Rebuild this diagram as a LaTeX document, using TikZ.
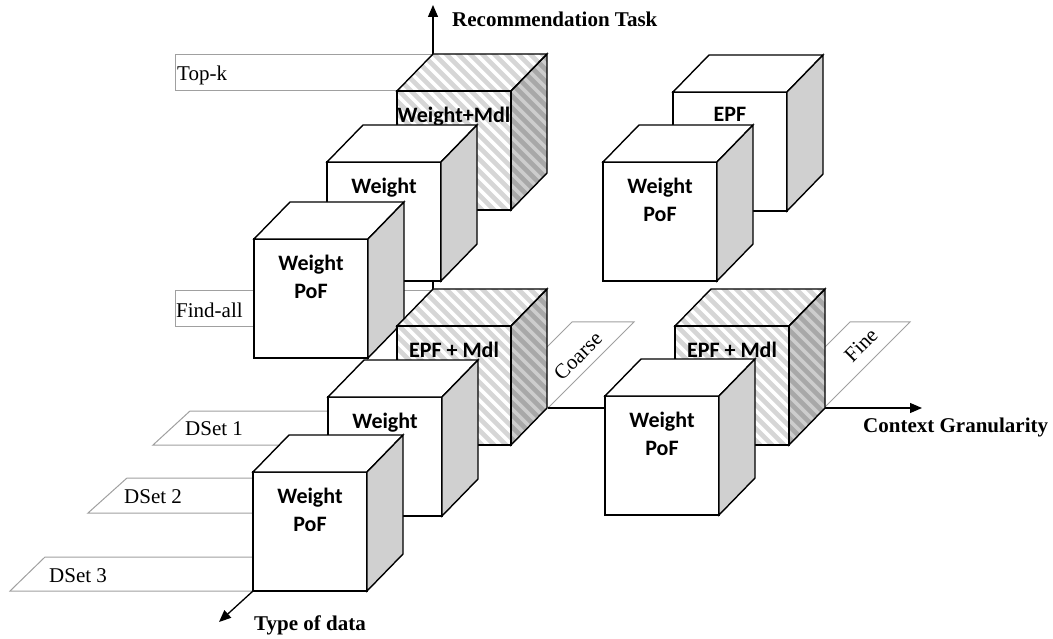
\documentclass[tikz,border=0pt]{standalone}
\usepackage{fontspec}
\setmainfont{Liberation Serif}
\newfontfamily\cubefont{Carlito}
\usetikzlibrary{arrows.meta}
\definecolor{sidegray}{HTML}{D0D0D0}
\definecolor{stripegray}{HTML}{D6D6D6}
\definecolor{hsidebase}{HTML}{CDCDCD}
\definecolor{hsidestripe}{HTML}{A8A8A8}
\definecolor{plategray}{HTML}{A0A0A0}
\tikzset{
  cubeedge/.style={draw=black, line width=1.4pt, line join=miter},
  platebox/.style={draw=plategray, line width=1pt, fill=white},
  platetext/.style={font=\fontsize{21}{24}\selectfont, anchor=base west, inner sep=0pt},
  axislabel/.style={font=\fontsize{21}{24}\selectfont\bfseries, anchor=base west, inner sep=0pt},
  axisline/.style={line width=1.3pt, -{Triangle[length=12pt,width=10pt]}},
  cubelabel/.style={font=\cubefont\bfseries\fontsize{22}{28}\selectfont, align=center, anchor=north, inner sep=0pt},
}
\newcommand{\plaincube}[4]{%
  \begin{scope}[shift={(#2,#3)}]
    \path[cubeedge, fill=white] (0,0) -- (114,0) -- (114,119) -- (0,119) -- cycle;
    \path[cubeedge, fill=white] (0,0) -- (36,-37) -- (150,-37) -- (114,0) -- cycle;
    \path[cubeedge, fill=sidegray] (114,0) -- (150,-37) -- (150,82) -- (114,119) -- cycle;
    \node[cubelabel] (#1) at (57,15.5) {#4};
  \end{scope}}
\newcommand{\hatchcube}[4]{%
  \begin{scope}[shift={(#2,#3)}]
    \begin{scope}
      \clip (0,119) -- (0,0) -- (36,-37) -- (150,-37) -- (114,0) -- (114,119) -- cycle;
      \fill[white] (-5,-45) rectangle (155,125);
      \foreach \k in {-16,...,13} \draw[line width=4.6pt, stripegray] (\k*12,-50) -- ++(250,250);
    \end{scope}
    \begin{scope}
      \clip (114,0) -- (150,-37) -- (150,82) -- (114,119) -- cycle;
      \fill[hsidebase] (100,-45) rectangle (155,125);
      \foreach \k in {-16,...,13} \draw[line width=4.6pt, hsidestripe] (\k*12,-50) -- ++(250,250);
    \end{scope}
    \path[cubeedge] (0,0) -- (114,0) -- (114,119) -- (0,119) -- cycle;
    \path[cubeedge] (0,0) -- (36,-37) -- (150,-37) -- (114,0) -- cycle;
    \path[cubeedge] (114,0) -- (150,-37) -- (150,82) -- (114,119) -- cycle;
    \node[cubelabel] (#1) at (57,15.5) {#4};
  \end{scope}}
\begin{document}
\begin{tikzpicture}[x=1pt,y=-1pt]
\useasboundingbox (0,0) rectangle (1053,639);
% plates
\path[platebox] (175,55) rectangle (433,91);
\node[platetext] (topk) at (177,81) {Top-k};
\path[platebox] (175,291) rectangle (433,327);
\node[platetext] (findall) at (176,317) {Find-all};
\path[platebox] (487,407) -- (549,407) -- (634,322) -- (572,322) -- cycle;
\node[platetext, anchor=center, rotate=45] (coarse) at (578,356) {Coarse};
\path[platebox] (765,407) -- (825,407) -- (910,322) -- (850,322) -- cycle;
\node[platetext, anchor=center, rotate=45] (fine) at (861,345) {Fine};
\path[platebox] (153,445) -- (190,411) -- (340,411) -- (340,445) -- cycle;
\node[platetext] (ds1) at (185,435) {DSet 1};
\path[platebox] (88,513) -- (127,478) -- (262,478) -- (262,513) -- cycle;
\node[platetext] (ds2) at (124,503) {DSet 2};
\path[platebox] (10,591) -- (45,557) -- (258,557) -- (258,591) -- cycle;
\node[platetext] (ds3) at (49,582) {DSet 3};
% axes
\coordinate (vo) at (433,289); \coordinate (vt) at (433,5);
\coordinate (ho) at (548,408); \coordinate (ht) at (922,408);
\coordinate (to) at (253,591); \coordinate (tt) at (219,622);
\draw[axisline] (vo) -- (vt);
\draw[axisline] (ho) -- (ht);
\node[axislabel] (rt) at (452,27) {Recommendation Task};
\node[axislabel] (cg) at (863,432) {Context Granularity};
% cubes: top-left group
\hatchcube{c1}{397}{91}{Weight+Mdl}
\plaincube{c2}{327}{162}{Weight}
\plaincube{c3}{254}{239}{Weight\\PoF}
% top-right group
\plaincube{c4}{673}{92}{EPF}
\plaincube{c5}{603}{162}{Weight\\PoF}
% bottom-left group
\hatchcube{c6}{397}{326}{EPF + Mdl}
\plaincube{c7}{328}{397}{Weight}
\plaincube{c8}{253}{472}{Weight\\PoF}
% bottom-right group
\hatchcube{c9}{675}{326}{EPF + Mdl}
\plaincube{c10}{605}{396}{Weight\\PoF}
% type of data axis
\draw[axisline] (to) -- (tt);
\node[axislabel] (td) at (254,630) {Type of data};
\end{tikzpicture}
\end{document}
